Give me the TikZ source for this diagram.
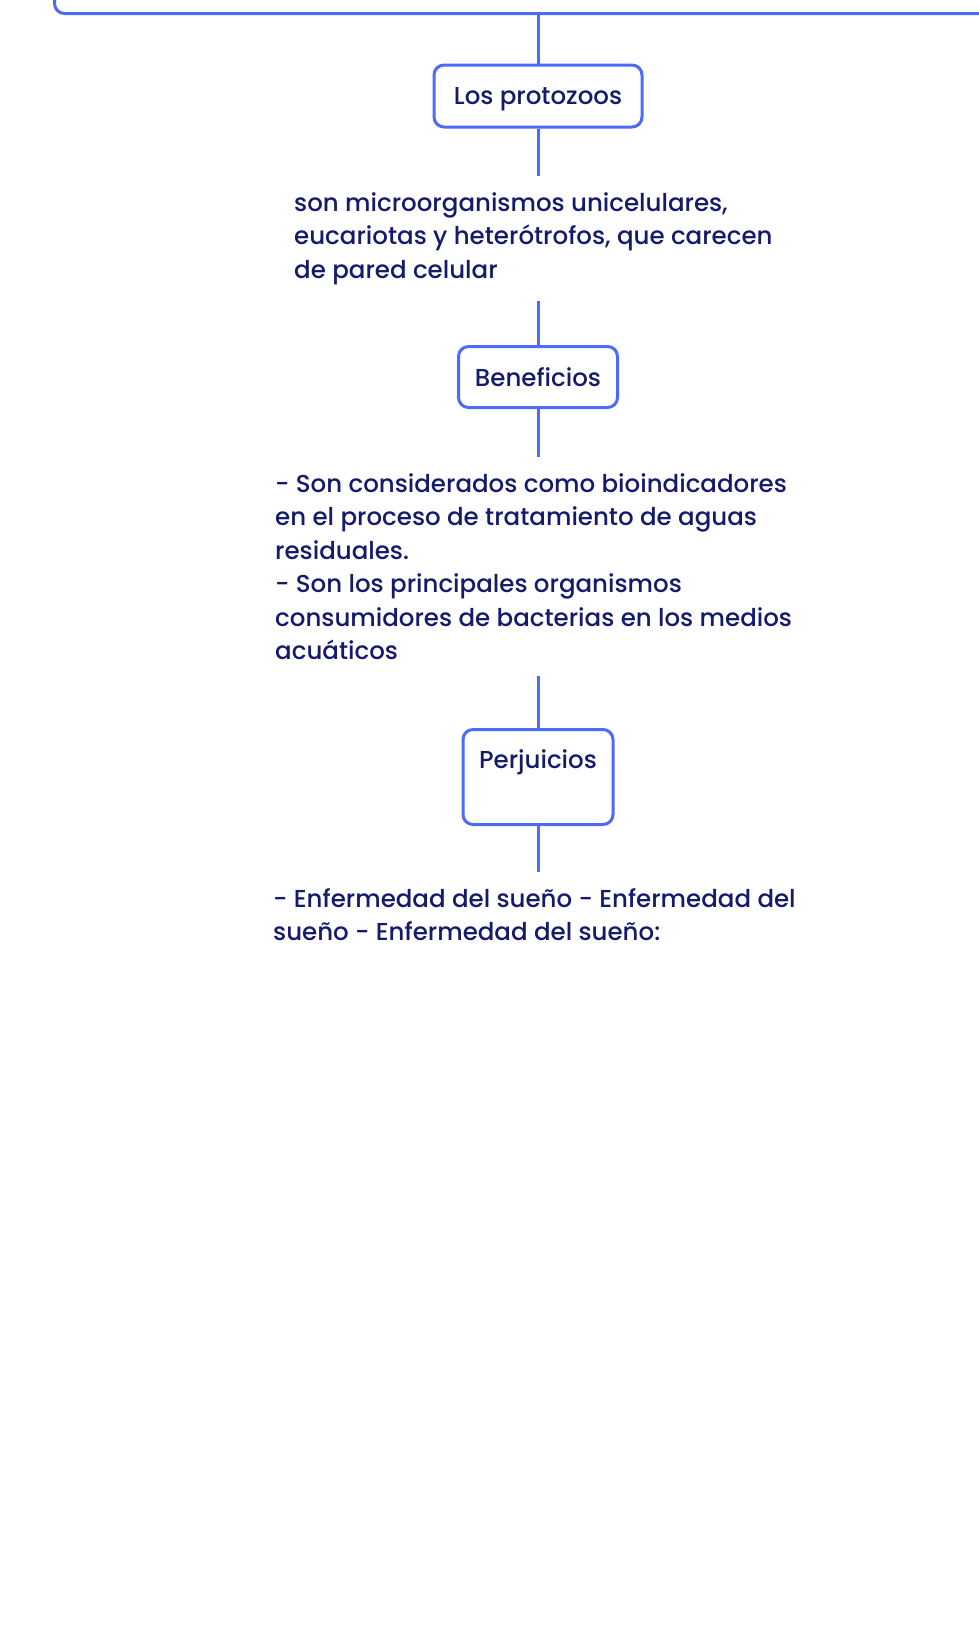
\documentclass[tikz,border=0pt]{standalone}
\usepackage{fontspec}
\setmainfont[Ligatures=NoCommon, UprightFont=* Medium]{Poppins}
\definecolor{lineblue}{HTML}{4D6BFA}
\definecolor{navy}{HTML}{141B6B}
\tikzset{
  x=1pt, y=-1pt,
  conn/.style={draw=lineblue, line width=3pt},
  topicbox/.style={draw=lineblue, line width=3pt, rounded corners=10pt, fill=white,
    text=navy, font=\fontsize{24.5}{30}\selectfont, inner sep=0pt, align=center,
    text depth=0pt},
  boxlabel/.style={text=navy, font=\fontsize{24.5}{30}\selectfont, inner sep=0pt, text depth=0pt},
  bodytext/.style={text=navy, font=\fontsize{24.5}{33.5}\selectfont, align=left,
    inner xsep=0pt, inner ysep=16pt, anchor=north west},
}
\begin{document}
\begin{tikzpicture}
\useasboundingbox[fill=white] (0,0) rectangle (979,1638);
\clip (0,0) rectangle (979,1638);
% top (cut-off) box
\node[draw=lineblue, line width=3pt, rounded corners=10pt, minimum width=1000pt, minimum height=80pt, anchor=south west, inner sep=0pt] (root) at (53,15) {};
% Los protozoos
\node[topicbox, minimum width=208pt, minimum height=62pt] (p1) at (538,96) {Los protozoos};
\node[bodytext] (t1) at (294,176) {son microorganismos unicelulares,\\eucariotas y heterótrofos, que carecen\\de pared celular};
% Beneficios
\node[topicbox, minimum width=159pt, minimum height=61pt] (p2) at (538,377) {Beneficios};
\node[bodytext] (t2) at (275,457) {- Son considerados como bioindicadores\\en el proceso de tratamiento de aguas\\residuales.\\- Son los principales organismos\\consumidores de bacterias en los medios\\acuáticos};
% Perjuicios
\node[topicbox, minimum width=150pt, minimum height=95pt, anchor=north] (p3) at (538,728) {};
\node[boxlabel] (p3l) at (538,759) {Perjuicios};
\node[bodytext] (t3) at (273,872) {- Enfermedad del sueño - Enfermedad del\\sueño - Enfermedad del sueño:};
% connectors
\draw[conn] (root.south -| p1.north) -- (p1.north);
\draw[conn] (p1.south) -- (p1.south |- t1.north);
\draw[conn] (p2.north |- t1.south) -- (p2.north);
\draw[conn] (p2.south) -- (p2.south |- t2.north);
\draw[conn] (p3.north |- t2.south) -- (p3.north);
\draw[conn] (p3.south) -- (p3.south |- t3.north);
\end{tikzpicture}
\end{document}
